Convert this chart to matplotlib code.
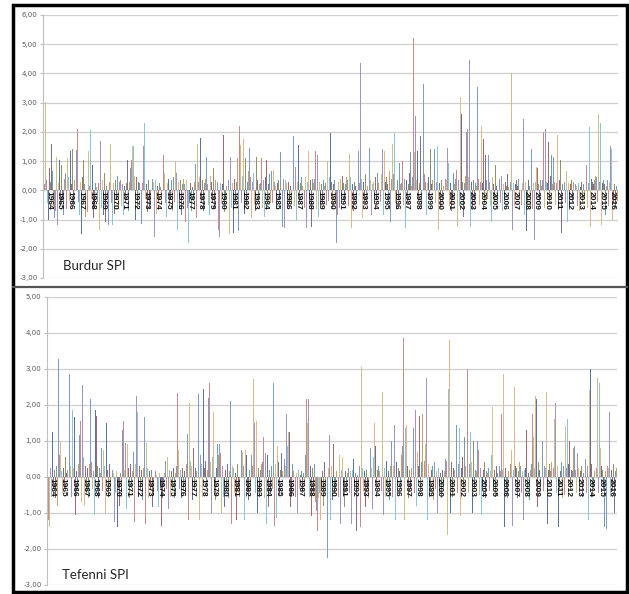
import numpy as np
import matplotlib
matplotlib.use('Agg')
import matplotlib.pyplot as plt
from matplotlib.patches import Rectangle
from matplotlib.lines import Line2D

years = list(range(1964, 2017))
months = ['Oca', 'Sub', 'Mar', 'Nis', 'May', 'Haz', 'Tem', 'Agu', 'Eyl', 'Eki', 'Kas', 'Ara']

# monthly SPI values, one row per year
burdur_spi = [
    [1.37, 0.22, 3.02, 0.35, -0.45, -0.80, -1.00, 0.75, 0.30, 1.60, 0.65, -0.60],
    [-0.95, -0.70, 1.15, -1.20, -0.40, 0.25, 1.05, -0.55, 0.85, -0.30, -0.85, 0.40],
    [0.60, -0.65, 1.10, -1.05, 0.45, -0.35, 1.35, 0.20, 1.40, -0.50, -0.80, 0.35],
    [1.38, 2.10, 0.60, -0.40, -0.85, 0.30, -1.50, 0.45, 1.05, -0.60, 0.20, -0.90],
    [0.50, -0.75, 1.35, 0.15, 2.05, -0.30, 0.85, -0.95, 0.30, -0.55, 0.25, 0.10],
    [-0.40, 0.25, -1.35, 1.70, -0.60, 0.35, -0.85, 0.20, 0.60, -1.10, 0.15, -0.30],
    [-1.20, 0.30, 1.60, -0.45, -1.20, 0.25, 0.70, -0.80, 0.35, -0.30, 0.50, -0.65],
    [0.30, 0.35, -0.55, 0.20, -0.85, 0.65, 0.15, -0.40, 0.25, 1.05, -0.70, 0.30],
    [0.75, 1.05, 1.52, -0.35, 1.50, 0.50, -1.00, 0.45, -0.60, 0.30, 0.25, -0.45],
    [-1.15, 0.25, -0.50, 1.50, 2.30, -0.30, 0.20, -0.75, 0.35, -0.60, 0.15, -0.35],
    [0.40, -0.55, 0.30, -1.60, 0.35, -0.80, 0.15, -0.40, 0.25, -0.65, 0.10, -0.30],
    [0.70, 1.20, 0.60, -0.45, -0.90, 0.25, 0.40, -0.55, 0.15, -0.30, 0.35, -0.70],
    [0.45, -0.40, 1.00, 0.60, -1.35, 0.30, 1.55, -0.65, 0.35, -0.85, 0.20, 0.40],
    [0.20, -1.10, 0.35, -0.60, -1.80, 0.15, -0.45, 0.25, -0.70, 0.10, -0.35, 0.30],
    [0.90, -0.95, 1.60, 0.30, -0.55, 0.45, 1.80, -0.40, 0.35, -0.70, 0.25, 0.40],
    [1.15, 0.20, -0.50, 0.65, -0.85, 0.50, 0.30, -0.40, 0.75, -0.60, 0.15, 0.35],
    [0.30, -1.35, 2.15, -1.60, 0.25, -0.45, 0.20, 1.90, -0.75, 0.40, -0.30, 0.15],
    [0.35, 2.45, -1.50, 1.15, -0.60, 0.25, -1.45, 0.40, 1.05, -0.35, 0.30, 1.10],
    [-1.40, 2.20, 1.55, -0.45, 0.50, 1.75, -0.80, 0.35, 1.10, -0.55, 0.30, 0.65],
    [1.45, 0.45, -0.95, 0.30, 0.60, -0.50, 0.25, -0.70, 1.15, 0.35, -0.40, 0.20],
    [0.25, 1.10, -0.60, 0.35, -0.90, 0.15, 0.45, 1.05, -0.35, 0.20, 0.55, -0.45],
    [0.65, -0.45, 0.70, 0.30, -1.10, 0.15, -0.65, 0.25, 0.35, -0.30, 1.30, 0.10],
    [-1.25, 0.40, 2.00, -1.30, 0.35, 0.25, -0.60, 0.30, -0.45, 0.15, 0.65, -0.35],
    [1.85, 0.35, -0.55, 0.80, -1.00, 0.30, 1.55, -0.40, 0.25, -0.70, 0.45, 0.15],
    [0.50, -0.60, 0.45, -1.30, 0.30, 1.35, -0.45, 0.35, 0.20, -1.25, 0.40, 0.25],
    [0.40, 1.35, -0.65, 1.20, -0.90, 0.30, 0.45, -0.55, 0.20, -0.40, 0.35, 0.15],
    [0.25, -0.50, 1.00, -0.35, 0.45, -1.00, 1.95, 0.30, -0.65, 0.20, 0.35, -0.45],
    [-1.80, -0.85, 0.30, -0.60, 1.15, 0.40, -0.45, 0.50, 0.25, -0.35, 0.20, 0.45],
    [0.35, -0.55, 1.25, -0.40, 0.45, -1.30, 0.20, -0.70, 0.30, 0.15, -0.45, 0.40],
    [1.35, 0.25, -0.60, 4.35, 0.40, -0.95, 0.30, -0.45, 0.55, 0.20, -0.35, 0.15],
    [1.45, -0.55, 0.35, -0.85, 0.20, 0.30, -0.40, 0.45, 3.25, -0.30, 0.60, 0.25],
    [0.90, -0.40, 0.55, 1.40, -0.85, 1.35, 0.30, -0.55, 0.45, 0.20, -0.35, 0.65],
    [-1.10, 0.40, 1.60, 0.55, 1.96, -0.45, 0.30, -0.65, 0.35, -0.30, 0.95, 0.20],
    [0.25, 1.00, -0.50, 0.40, -1.30, 3.05, 0.35, -0.45, 0.20, 0.60, 1.30, 0.15],
    [0.45, 5.20, 1.30, 2.55, -0.95, 0.35, 1.35, -0.40, 0.25, 1.85, -0.55, 0.30],
    [3.65, 0.55, -0.40, 0.30, -0.85, 0.25, 0.45, -0.30, 1.40, 0.20, -0.50, 0.35],
    [1.40, 0.65, -0.45, 0.30, 1.50, -1.35, 0.25, -0.60, 0.35, 0.20, -0.40, 0.15],
    [-1.35, 0.40, 0.35, 1.45, 0.95, -0.55, 0.25, -0.70, 0.45, -0.30, 0.60, 0.20],
    [0.40, 0.70, -1.25, 0.35, -0.55, 3.20, 2.60, -0.45, 0.30, -0.90, 0.25, 0.50],
    [2.00, 2.10, 0.45, 4.45, -1.25, 0.95, 0.30, -0.60, 0.35, -0.40, 0.25, 0.15],
    [3.55, 0.40, -0.50, 0.30, -1.20, 2.20, 0.25, 1.75, -0.45, 1.20, 0.35, -0.30],
    [1.20, 0.30, -0.55, 0.25, -1.10, 0.45, 0.20, -0.40, 0.85, 0.15, -0.35, 0.30],
    [0.40, -0.45, 0.25, 0.50, -0.70, 0.20, -0.35, 0.30, 0.15, 0.55, -0.50, 0.10],
    [0.30, 1.30, 4.00, -1.35, 0.25, -0.55, 0.20, 0.35, -0.45, 0.15, 0.40, -0.30],
    [0.70, -0.50, 0.25, 2.45, -0.85, 0.30, -1.40, 0.20, -0.45, 0.35, 0.15, -0.60],
    [1.40, -0.65, 0.25, -1.70, 0.30, 0.80, -0.55, 0.75, 0.20, -0.40, 0.35, 0.15],
    [0.35, 2.00, -0.60, 2.10, 0.30, -1.00, 0.25, 1.65, -0.45, 0.50, 1.20, 0.20],
    [1.15, 0.30, -0.50, 0.25, 2.25, 1.90, -0.65, 0.35, 1.05, -1.45, 0.20, 0.40],
    [0.30, -0.45, 0.65, 0.85, -1.10, 0.25, -0.55, 0.20, 0.35, -0.40, 0.15, 0.30],
    [0.20, -0.35, 0.15, -0.55, 0.25, -0.70, 0.10, 0.30, -0.45, 0.90, 0.20, -0.30],
    [0.35, 0.85, -0.60, 0.25, 2.15, -1.25, 0.40, 0.30, -0.45, 0.20, 0.35, 0.50],
    [0.45, -0.40, 2.60, 0.30, 2.30, -1.20, 0.25, -0.55, 0.35, 0.20, -0.85, 0.15],
    [0.35, -0.55, 0.25, 1.50, 1.40, -1.00, 0.30, -0.45, 0.20, -0.60, 0.15, -0.35],
]

tefenni_spi = [
    [0.45, -1.20, -1.40, 0.25, -0.55, -1.10, 1.25, -0.35, 0.20, -0.60, 0.30, -0.80],
    [3.28, 0.60, 1.00, -1.00, 0.15, -0.45, 0.25, -0.35, 0.55, 0.10, -0.60, 0.20],
    [2.85, -1.15, 0.30, -0.55, 1.85, 0.25, 1.65, -1.05, 1.20, 0.15, -0.40, 0.35],
    [1.15, 1.55, -0.70, 2.55, 0.55, -0.80, 0.80, 0.30, -0.45, 0.25, -0.60, 0.35],
    [2.15, 0.40, -0.35, 0.15, -1.05, 1.10, 1.85, 1.70, 0.30, -0.60, 0.25, 0.10],
    [0.80, -0.40, 0.75, 0.25, 0.30, -1.00, 1.50, 0.20, -0.55, 0.35, 0.15, -0.30],
    [0.20, -0.65, 0.10, -1.25, -0.45, 0.15, -1.40, -0.30, 0.05, -0.80, 0.10, -0.55],
    [1.30, 1.55, 0.20, 0.95, -0.90, 0.90, -0.40, 0.25, -0.60, 0.35, -0.30, 0.15],
    [0.70, -1.25, 0.35, 2.25, 1.80, 1.50, -0.55, 0.30, -0.40, 0.20, -0.65, 0.25],
    [1.65, -1.30, 0.95, -0.45, 0.25, -0.60, 0.15, -0.35, 0.20, -0.85, 0.10, -0.50],
    [0.15, -0.55, 0.05, -0.40, -0.85, 0.10, -0.30, -1.35, 0.05, -0.60, -0.25, 0.10],
    [0.45, -0.35, 0.55, -0.90, 0.20, -0.55, 1.05, 0.15, -0.40, 0.25, -0.60, 0.10],
    [0.30, 2.34, 0.75, -0.35, 0.20, 1.00, -0.60, 0.25, -0.40, 0.15, -0.50, 0.35],
    [1.20, -1.20, 2.05, -1.45, 0.45, 0.30, -0.65, 0.80, -0.40, 0.25, -0.85, 0.15],
    [2.30, 1.10, -1.20, 0.60, 0.35, -0.55, 2.45, 0.25, -0.75, 0.45, -0.35, 0.20],
    [2.20, 2.60, 0.40, -1.00, 0.55, 1.80, -0.45, 0.30, -0.65, 0.25, 0.90, 0.60],
    [0.90, 0.65, -1.00, 0.30, -0.55, 0.25, -0.85, 0.20, -0.40, 0.35, -0.60, 0.15],
    [2.10, -1.30, 0.30, -0.60, 0.25, -0.45, 0.10, -1.20, 0.35, -0.30, 0.20, -0.55],
    [0.75, -0.55, 0.70, 0.30, -1.20, 0.75, 0.60, -0.40, 0.25, -0.65, 0.20, -0.35],
    [0.60, 0.30, 2.72, 1.50, -0.45, 1.55, -1.00, 0.85, 0.25, -0.55, 0.20, 0.35],
    [0.40, 1.10, -0.60, 0.65, -1.30, 0.25, 0.60, -0.85, 0.20, -0.45, 0.30, -0.35],
    [2.60, -1.35, 0.35, 1.45, -1.15, 0.85, 0.40, -0.50, 0.20, 0.65, -0.30, 0.15],
    [0.50, -0.40, 0.30, 1.75, 0.85, 1.25, 1.25, -0.85, 0.20, -0.55, 0.35, 0.15],
    [0.30, -0.55, 0.10, -1.00, 0.20, -0.35, 0.05, -0.65, 0.15, -0.45, 0.10, -0.25],
    [0.60, 2.15, 1.50, 2.15, -0.55, 2.05, 0.30, -1.10, 0.25, -0.40, 0.35, -0.70],
    [-0.95, -1.50, -0.60, -1.60, -0.45, -1.20, -0.30, 0.15, -0.80, 0.40, -0.55, -0.35],
    [-2.25, -0.40, 0.25, 1.15, -1.20, 0.30, -0.65, 0.90, -0.45, 0.20, -0.30, 0.15],
    [0.35, -0.55, 0.60, -1.30, 0.20, 0.55, -0.45, 0.30, -0.85, 0.15, -0.40, 0.10],
    [0.25, -0.45, 0.15, -1.30, 0.20, -0.60, 0.50, -0.35, 0.10, -1.50, 0.05, -0.30],
    [0.30, -1.40, 3.05, -0.55, 0.25, -0.40, 0.15, -0.85, 0.20, -0.35, 0.10, -0.60],
    [0.80, -0.45, 0.25, -0.90, 0.55, 1.50, 0.85, -0.35, 0.20, -0.60, 0.30, 0.15],
    [0.35, -0.40, 2.35, -1.05, 0.25, -0.55, 0.45, 0.20, -0.35, 0.15, -0.65, 0.30],
    [1.00, -0.55, 0.30, 1.45, -1.20, 0.20, 0.40, -0.45, 0.25, 0.15, -0.35, 0.60],
    [0.85, 3.85, -1.20, 1.70, 1.35, 1.45, 0.30, -0.60, 0.20, -0.35, 0.15, 0.25],
    [1.35, -0.45, 0.55, 1.85, -0.80, 0.70, 0.30, 1.70, -0.35, 0.25, 0.40, 1.75],
    [1.50, 0.45, 0.90, 2.75, -1.20, 0.35, -0.55, 0.25, -0.40, 0.20, 0.30, -0.65],
    [0.40, -0.35, 0.15, -1.00, 0.25, 0.60, -0.45, 0.10, -0.60, 0.20, -0.30, 0.15],
    [0.50, 0.45, -1.60, 0.30, 2.45, 3.81, -1.00, 0.40, -0.55, 0.25, -0.35, 0.20],
    [1.45, -0.45, 1.00, 0.35, 1.35, -1.10, 0.25, 0.55, -0.35, 0.20, 1.10, 0.30],
    [1.20, 2.99, -0.45, 0.35, 1.25, 0.40, -1.00, 0.25, 1.00, -0.35, 0.20, 0.15],
    [1.00, 0.75, -0.50, 0.25, -1.05, 0.30, -0.35, 0.20, 0.40, -0.60, 0.15, 0.10],
    [0.25, -0.40, 0.15, -0.95, 0.60, 1.95, -0.35, 0.20, -0.55, 0.30, 0.10, -0.25],
    [0.30, 0.15, -0.45, 1.75, 0.20, 2.85, -1.40, 0.25, -0.35, 0.40, -0.60, 0.15],
    [-0.55, 0.35, 0.75, -1.35, 0.20, 2.48, 0.30, -0.45, 0.25, -0.60, 0.15, 0.40],
    [0.30, -0.45, 0.15, -1.20, 0.20, -0.55, 0.25, 1.30, -0.35, 0.10, -0.65, 0.20],
    [0.35, 1.75, 1.10, -0.45, 0.25, 2.25, 2.15, -0.85, 0.40, 0.20, -0.35, 0.55],
    [1.00, -0.40, 2.00, 0.30, 0.25, 2.35, -1.30, 0.20, 0.35, -0.55, 0.15, 0.40],
    [0.35, 0.25, 1.60, 2.05, -0.45, 0.30, -1.40, 0.20, -0.35, 0.15, 0.40, -0.60],
    [0.30, -0.50, 1.40, 0.25, 1.60, -1.00, 0.35, 1.00, -0.40, 0.20, 0.15, 0.80],
    [0.85, 0.20, -0.45, 0.65, -0.90, 0.25, -0.35, 0.15, 0.30, -0.55, 0.10, -0.30],
    [0.50, -0.45, 0.25, 0.30, -1.20, 2.40, 3.00, 0.35, -0.55, 0.20, -0.35, 0.15],
    [0.40, 0.25, 2.75, -0.45, 2.60, 0.80, 0.30, -0.65, 0.20, -0.35, -1.40, 0.15],
    [-1.45, 0.30, 0.25, 1.80, -0.55, 1.30, 0.20, -0.40, 0.35, -1.00, 0.15, 0.25],
]

# washed-out office palette, one colour per month
colors = ['#7F9CC5', '#C98A8E', '#C9C08E', '#A393BE', '#8CC3D6', '#E3B78C',
          '#5C7499', '#9E6B6E', '#8E9468', '#7C6F90', '#6FA0AE', '#C8A070']

fig = plt.figure(figsize=(6.29, 5.94), dpi=100)
fig.patch.set_facecolor('white')


def spi_panel(ax, data, ymin, ymax, title, tx, ty):
    vals = np.array(data)
    x = np.arange(len(years))
    w = 1.0 / 12.5
    for m in range(12):
        ax.bar(x + (m - 5.5) * w, vals[:, m], width=w, color=colors[m],
               linewidth=0, zorder=2)
    ax.set_xlim(-0.5, len(years) - 0.5)
    ax.set_ylim(ymin, ymax)
    ax.set_yticks(np.arange(ymin, ymax + 1))
    ax.set_yticklabels([f'{v:.2f}'.replace('.', ',') for v in np.arange(ymin, ymax + 1)],
                       fontsize=5, color='#595959')
    ax.set_xticks([])
    ax.tick_params(axis='y', length=2, color='#BFBFBF', pad=2)
    ax.grid(axis='y', color='#CFCFCF', linewidth=0.9, zorder=0)
    ax.set_axisbelow(True)
    for s in ['top', 'right', 'bottom']:
        ax.spines[s].set_visible(False)
    ax.spines['left'].set_color('#BFBFBF')
    ax.spines['left'].set_linewidth(0.8)
    for i, yr in enumerate(years):
        ax.text(i, -0.04, str(yr), rotation=270, ha='center', va='top',
                fontsize=6, color='#111111', family='Liberation Sans',
                fontweight='bold', zorder=5)
    ax.text(tx, ty, title, transform=ax.transAxes, fontsize=9.5, family='Lato',
            color='#262626', va='center', ha='left')


ax1 = fig.add_axes([0.0684, 0.532, 0.914, 0.4428])
spi_panel(ax1, burdur_spi, -3, 6, 'Burdur SPI', 0.035, 0.046)

ax2 = fig.add_axes([0.0747, 0.0152, 0.906, 0.4854])
spi_panel(ax2, tefenni_spi, -3, 5, 'Tefenni SPI', 0.026, 0.035)

# panel separator and outer frame
fig.add_artist(Line2D([0.021, 0.997], [1 - 287 / 594, 1 - 287 / 594],
                      color='#555555', linewidth=1.6, transform=fig.transFigure))
fig.add_artist(Rectangle((0.021, 0.003), 0.976, 0.988, transform=fig.transFigure,
                         fill=False, edgecolor='black', linewidth=2.5))

plt.savefig('out.png', dpi=100)
